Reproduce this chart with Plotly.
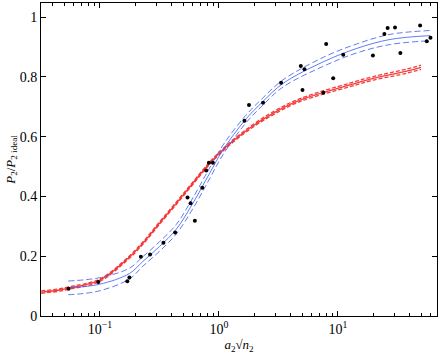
import plotly.graph_objects as go

# measured points
pts_x = [0.0545, 0.097, 0.170, 0.177, 0.221, 0.264, 0.342, 0.429, 0.628, 0.578, 0.545,
         0.725, 0.783, 0.824, 0.890, 1.64, 1.79, 2.35, 3.33, 4.88, 5.24, 5.04, 7.55,
         7.97, 9.13, 11.09, 19.7, 24.6, 26.2, 30.2, 33.5, 49.1, 55.9, 60.0]
pts_y = [0.091, 0.114, 0.116, 0.129, 0.198, 0.206, 0.245, 0.279, 0.319, 0.377, 0.396,
         0.429, 0.487, 0.513, 0.513, 0.653, 0.706, 0.713, 0.780, 0.836, 0.825, 0.756, 0.747,
         0.910, 0.795, 0.874, 0.871, 0.943, 0.963, 0.965, 0.880, 0.972, 0.919, 0.931]

# blue fit with bands
blue_x = [0.0542, 0.0989, 0.177, 0.229, 0.316, 0.438, 0.604, 0.835, 1.08, 1.64, 2.35,
          3.46, 7.52, 14.4, 27.4, 59.6]
blue_y = [0.094, 0.106, 0.142, 0.182, 0.232, 0.290, 0.377, 0.477, 0.555, 0.653, 0.718,
          0.778, 0.850, 0.895, 0.925, 0.938]
blue_hi = [0.117, 0.128, 0.160, 0.198, 0.248, 0.306, 0.395, 0.495, 0.571, 0.666, 0.730,
           0.790, 0.865, 0.910, 0.942, 0.955]
blue_lo = [0.071, 0.084, 0.124, 0.166, 0.216, 0.274, 0.359, 0.459, 0.539, 0.640, 0.706,
           0.766, 0.835, 0.880, 0.908, 0.921]

# red fit with bands
red_x = [0.0321, 0.0455, 0.0542, 0.0989, 0.166, 0.229, 0.316, 0.438, 0.604, 0.835, 1.154,
         1.81, 2.85, 4.79, 12.6, 19.8, 37.9, 50.0]
red_y = [0.080, 0.087, 0.093, 0.119, 0.187, 0.243, 0.310, 0.377, 0.444, 0.511, 0.566,
         0.628, 0.678, 0.722, 0.773, 0.795, 0.819, 0.832]
red_hi = [0.084, 0.091, 0.097, 0.123, 0.191, 0.247, 0.314, 0.381, 0.448, 0.515, 0.570,
          0.632, 0.683, 0.727, 0.779, 0.801, 0.826, 0.839]
red_lo = [0.076, 0.083, 0.089, 0.115, 0.183, 0.239, 0.306, 0.373, 0.440, 0.507, 0.562,
          0.624, 0.673, 0.717, 0.767, 0.789, 0.812, 0.825]

x_major = [0.1, 1, 10]
x_major_text = ["10<sup>−1</sup>", "10<sup>0</sup>", "10<sup>1</sup>"]
x_minor = [0.04, 0.05, 0.06, 0.07, 0.08, 0.09, 0.2, 0.3, 0.4, 0.5, 0.6, 0.7, 0.8, 0.9,
           2, 3, 4, 5, 6, 7, 8, 9, 20, 30, 40, 50, 60]
y_ticks = [0, 0.2, 0.4, 0.6, 0.8, 1]
y_text = ["0", "0.2", "0.4", "0.6", "0.8", "1"]

BLUE = "rgba(70,100,240,0.85)"
RED = "rgba(245,40,40,0.9)"

fig = go.Figure()
fig.add_trace(go.Scatter(x=red_x, y=red_hi, mode="lines", line_shape="spline",
                         line=dict(color=RED, width=1.3, dash="4px,2px")))
fig.add_trace(go.Scatter(x=red_x, y=red_lo, mode="lines", line_shape="spline",
                         line=dict(color=RED, width=1.3, dash="4px,2px")))
fig.add_trace(go.Scatter(x=red_x, y=red_y, mode="lines", line_shape="spline",
                         line=dict(color=RED, width=1.3)))
fig.add_trace(go.Scatter(x=blue_x, y=blue_hi, mode="lines", line_shape="spline",
                         line=dict(color=BLUE, width=1, dash="6px,3px")))
fig.add_trace(go.Scatter(x=blue_x, y=blue_lo, mode="lines", line_shape="spline",
                         line=dict(color=BLUE, width=1, dash="6px,3px")))
fig.add_trace(go.Scatter(x=blue_x, y=blue_y, mode="lines", line_shape="spline",
                         line=dict(color=BLUE, width=1)))
fig.add_trace(go.Scatter(x=pts_x, y=pts_y, mode="markers",
                         marker=dict(color="black", size=4)))

fig.update_layout(
    width=443, height=358,
    margin=dict(l=41, r=6, t=3, b=42),
    plot_bgcolor="white", paper_bgcolor="white",
    showlegend=False,
    font=dict(family="Liberation Serif", size=14, color="black"),
)
fig.update_xaxes(
    type="log", range=[-1.495, 1.833], automargin=False,
    tickvals=x_major, ticktext=x_major_text,
    ticks="inside", ticklen=5, tickcolor="black",
    minor=dict(tickvals=x_minor, ticks="inside", ticklen=3, tickcolor="black"),
    showline=True, linecolor="black", linewidth=1, mirror="ticks",
    showgrid=False, zeroline=False,
    title=dict(text="<i>a</i><sub>2</sub>√<i>n</i><sub>2</sub>", standoff=0,
               font=dict(size=13)),
)
fig.update_yaxes(
    range=[0, 1.047], automargin=False,
    tickvals=y_ticks, ticktext=y_text,
    ticks="inside", ticklen=5, tickcolor="black",
    showline=True, linecolor="black", linewidth=1, mirror="ticks",
    showgrid=False, zeroline=False,
    title=dict(text="<i>P</i><sub>2</sub>/<i>P</i><sub>2 ideal</sub>", standoff=1,
               font=dict(size=13)),
)

# page body margin would shift the figure by 8px
fig.write_html("out.html", config={"displayModeBar": False},
               post_script="document.body.style.margin='0';")
